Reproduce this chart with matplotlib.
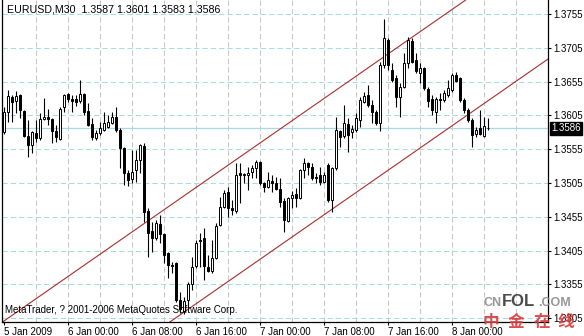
import matplotlib
matplotlib.use("Agg")
import matplotlib.pyplot as plt

plt.rcParams['font.family'] = ['Liberation Sans', 'DejaVu Sans']

# EURUSD M30 candles, bar 0 = 5 Jan 2009 16:00
opens = [
    1.3580, 1.3610, 1.3632, 1.3626, 1.3635, 1.3611, 1.3574, 1.3561, 1.3579, 1.3572,
    1.3600, 1.3603, 1.3600, 1.3582, 1.3570, 1.3617, 1.3637, 1.3629, 1.3629, 1.3626,
    1.3637, 1.3611, 1.3592, 1.3572, 1.3579, 1.3583, 1.3588, 1.3594, 1.3603, 1.3583,
    1.3557, 1.3520, 1.3511, 1.3524, 1.3539, 1.3560, 1.3464, 1.3434, 1.3424, 1.3444,
    1.3430, 1.3401, 1.3384, 1.3387, 1.3332, 1.3316, 1.3332, 1.3356, 1.3382, 1.3421,
    1.3424, 1.3381, 1.3375, 1.3394, 1.3443, 1.3470, 1.3492, 1.3468, 1.3464, 1.3520,
    1.3517, 1.3517, 1.3521, 1.3527, 1.3536, 1.3505, 1.3499, 1.3508, 1.3505, 1.3496,
    1.3478, 1.3449, 1.3483, 1.3489, 1.3483, 1.3524, 1.3535, 1.3529, 1.3514, 1.3517,
    1.3507, 1.3532, 1.3480, 1.3527, 1.3582, 1.3574, 1.3592, 1.3580, 1.3583, 1.3598,
    1.3625, 1.3635, 1.3620, 1.3610, 1.3594, 1.3680, 1.3717, 1.3672, 1.3661, 1.3632,
    1.3647, 1.3683, 1.3715, 1.3687, 1.3668, 1.3675, 1.3644, 1.3629, 1.3610, 1.3629,
    1.3628, 1.3635, 1.3643, 1.3665, 1.3661, 1.3628, 1.3613, 1.3598, 1.3577, 1.3586,
    1.3574, 1.3587]
highs = [
    1.3617, 1.3643, 1.3635, 1.3641, 1.3637, 1.3613, 1.3598, 1.3582, 1.3598, 1.3609,
    1.3631, 1.3614, 1.3601, 1.3591, 1.3617, 1.3637, 1.3638, 1.3635, 1.3635, 1.3657,
    1.3638, 1.3623, 1.3601, 1.3583, 1.3595, 1.3610, 1.3606, 1.3610, 1.3617, 1.3586,
    1.3558, 1.3524, 1.3554, 1.3554, 1.3563, 1.3564, 1.3468, 1.3447, 1.3450, 1.3458,
    1.3431, 1.3403, 1.3388, 1.3388, 1.3344, 1.3337, 1.3359, 1.3396, 1.3421, 1.3431,
    1.3438, 1.3398, 1.3421, 1.3446, 1.3484, 1.3495, 1.3499, 1.3480, 1.3535, 1.3535,
    1.3520, 1.3529, 1.3532, 1.3539, 1.3538, 1.3507, 1.3521, 1.3517, 1.3514, 1.3512,
    1.3483, 1.3484, 1.3493, 1.3498, 1.3526, 1.3542, 1.3536, 1.3535, 1.3520, 1.3529,
    1.3521, 1.3534, 1.3529, 1.3603, 1.3583, 1.3620, 1.3601, 1.3591, 1.3609, 1.3632,
    1.3640, 1.3650, 1.3628, 1.3613, 1.3684, 1.3748, 1.3720, 1.3683, 1.3665, 1.3653,
    1.3697, 1.3721, 1.3720, 1.3697, 1.3683, 1.3677, 1.3647, 1.3635, 1.3632, 1.3638,
    1.3643, 1.3657, 1.3668, 1.3669, 1.3662, 1.3631, 1.3616, 1.3601, 1.3588, 1.3613,
    1.3603, 1.3601]
lows = [
    1.3577, 1.3595, 1.3595, 1.3609, 1.3601, 1.3573, 1.3544, 1.3549, 1.3566, 1.3569,
    1.3598, 1.3591, 1.3564, 1.3566, 1.3569, 1.3610, 1.3625, 1.3610, 1.3619, 1.3623,
    1.3606, 1.3589, 1.3569, 1.3569, 1.3576, 1.3582, 1.3586, 1.3592, 1.3580, 1.3527,
    1.3502, 1.3501, 1.3505, 1.3507, 1.3520, 1.3447, 1.3396, 1.3403, 1.3421, 1.3416,
    1.3387, 1.3365, 1.3372, 1.3329, 1.3313, 1.3311, 1.3322, 1.3347, 1.3379, 1.3381,
    1.3362, 1.3373, 1.3372, 1.3393, 1.3441, 1.3468, 1.3455, 1.3458, 1.3461, 1.3475,
    1.3505, 1.3495, 1.3512, 1.3512, 1.3502, 1.3492, 1.3498, 1.3492, 1.3495, 1.3470,
    1.3433, 1.3447, 1.3468, 1.3470, 1.3481, 1.3512, 1.3517, 1.3509, 1.3505, 1.3502,
    1.3505, 1.3477, 1.3462, 1.3524, 1.3558, 1.3572, 1.3551, 1.3572, 1.3580, 1.3588,
    1.3623, 1.3617, 1.3594, 1.3591, 1.3582, 1.3675, 1.3672, 1.3654, 1.3617, 1.3603,
    1.3646, 1.3675, 1.3683, 1.3668, 1.3653, 1.3643, 1.3617, 1.3606, 1.3594, 1.3613,
    1.3625, 1.3632, 1.3640, 1.3654, 1.3625, 1.3609, 1.3595, 1.3558, 1.3573, 1.3576,
    1.3573, 1.3583]
closes = [
    1.3610, 1.3634, 1.3625, 1.3634, 1.3613, 1.3574, 1.3561, 1.3580, 1.3572, 1.3600,
    1.3603, 1.3600, 1.3582, 1.3573, 1.3614, 1.3635, 1.3629, 1.3626, 1.3625, 1.3637,
    1.3610, 1.3591, 1.3573, 1.3579, 1.3586, 1.3594, 1.3595, 1.3603, 1.3583, 1.3557,
    1.3520, 1.3509, 1.3521, 1.3539, 1.3561, 1.3462, 1.3431, 1.3424, 1.3446, 1.3430,
    1.3398, 1.3384, 1.3382, 1.3332, 1.3319, 1.3330, 1.3356, 1.3381, 1.3416, 1.3419,
    1.3382, 1.3375, 1.3394, 1.3441, 1.3470, 1.3490, 1.3468, 1.3465, 1.3517, 1.3517,
    1.3518, 1.3520, 1.3527, 1.3536, 1.3505, 1.3499, 1.3509, 1.3505, 1.3496, 1.3477,
    1.3450, 1.3483, 1.3487, 1.3483, 1.3524, 1.3535, 1.3529, 1.3512, 1.3512, 1.3507,
    1.3517, 1.3480, 1.3527, 1.3583, 1.3573, 1.3594, 1.3576, 1.3585, 1.3601, 1.3628,
    1.3634, 1.3620, 1.3610, 1.3594, 1.3680, 1.3720, 1.3680, 1.3657, 1.3632, 1.3647,
    1.3683, 1.3717, 1.3684, 1.3671, 1.3675, 1.3646, 1.3626, 1.3613, 1.3629, 1.3628,
    1.3638, 1.3646, 1.3665, 1.3656, 1.3628, 1.3613, 1.3598, 1.3576, 1.3583, 1.3577,
    1.3589, 1.3586]

symbol = "EURUSD,M30"
time_labels = ["5 Jan 2009", "6 Jan 00:00", "6 Jan 08:00", "6 Jan 16:00",
               "7 Jan 00:00", "7 Jan 08:00", "7 Jan 16:00", "8 Jan 00:00"]
label_bars = [0, 16, 32, 48, 64, 80, 96, 112]
grid_bars = [8, 16, 24, 32, 40, 48, 56, 64, 72, 80, 88, 96, 104, 112, 120, 128]
price_ticks = [1.3305, 1.3355, 1.3405, 1.3455, 1.3505, 1.3555,
               1.3605, 1.3655, 1.3705, 1.3755]
bid = 1.3586
# equidistant channel: two points on the upper line + width
chan_p1 = (0, 1.3301)
chan_p2 = (115, 1.3774)
chan_width = 0.0172
copyright = "MetaTrader, ? 2001-2006 MetaQuotes Software Corp."

W, H = 584, 336
fig = plt.figure(figsize=(W / 100, H / 100), dpi=100)
fig.patch.set_facecolor('white')
ax = fig.add_axes([2 / W, 14 / H, 546 / W, 322 / H])
ax.set_xlim(-0.5, 136)
ax.set_ylim(1.32995, 1.37757)

def px(x, y):
    return x / W, 1 - y / H

# grid
for b in grid_bars:
    ax.axvline(b, color='#c8c8c8', lw=0.75, ls=(0, (5, 3)), zorder=0)
for p in price_ticks:
    ax.axhline(p, color='#a6dde3', lw=0.75, ls=(0, (5, 3)), zorder=0)
ax.axhline(bid, color='#a9d9e6', lw=0.9, zorder=1)

# channel
slope = (chan_p2[1] - chan_p1[1]) / (chan_p2[0] - chan_p1[0])
xs = [-2, 140]
up = [chan_p1[1] + slope * (x - chan_p1[0]) for x in xs]
ax.plot(xs, up, color='#ad2d2d', lw=0.8, zorder=2)
ax.plot(xs, [u - chan_width for u in up], color='#ad2d2d', lw=0.8, zorder=2)

# candles
idx = list(range(len(opens)))
ax.vlines(idx, lows, highs, color='black', lw=0.8, zorder=3)
bottoms = [min(o, c) for o, c in zip(opens, closes)]
heights = [max(abs(c - o), 0.00004) for o, c in zip(opens, closes)]
faces = ['white' if c >= o else 'black' for o, c in zip(opens, closes)]
ax.bar(idx, heights, bottom=bottoms, width=0.7, color=faces,
       edgecolor='black', linewidth=0.7, zorder=4)

# axes styling
ax.spines['top'].set_visible(False)
for s in ['left', 'right', 'bottom']:
    ax.spines[s].set_color('black')
    ax.spines[s].set_linewidth(0.9)
ax.yaxis.tick_right()
ax.set_yticks(price_ticks)
ax.set_yticklabels([f"{p:.4f}" for p in price_ticks])
ax.tick_params(axis='y', direction='out', length=2.5, width=0.8, pad=1.5,
               labelsize=7)
ax.set_xticks(label_bars)
ax.set_xticklabels(time_labels, ha='left')
ax.tick_params(axis='x', direction='out', length=2.5, width=0.8, pad=1.0,
               labelsize=7)

# header
last = len(opens) - 1
header = f"{symbol}  {opens[last]:.4f} {highs[last]:.4f} {lows[last]:.4f} {closes[last]:.4f}"
fig.text(*px(7, 10), header, fontsize=7.7, va='center', ha='left')
fig.text(*px(5, 310), copyright, fontsize=7, va='center', ha='left', zorder=6)

# bid label
y_bid = ax.transData.transform((0, bid))[1]
fig.text(551 / W, y_bid / H, f"{bid:.4f}", fontsize=7, color='white',
         va='center', ha='left',
         bbox=dict(boxstyle='square,pad=0.15', fc='black', ec='black'))

# watermark
fig.text(*px(483, 303), "CN", fontsize=9, fontweight='bold', color='#8c8c8c',
         va='center', ha='left', alpha=0.9)
fig.text(*px(502, 301), "FOL", fontsize=12, fontweight='bold', color='#383838',
         va='center', ha='left', alpha=0.9)
fig.text(*px(538, 303), ".COM", fontsize=9, fontweight='bold', color='#8c8c8c',
         va='center', ha='left', alpha=0.9)
for ch, cx in zip("中金在线", [491, 516, 542, 566]):
    fig.text(*px(cx, 322), ch, fontsize=12, fontweight='bold', color='#d83a3a',
             family=['Noto Sans CJK SC', 'DejaVu Sans'], va='center',
             ha='center', alpha=0.9)

fig.savefig('out.png', dpi=100)
